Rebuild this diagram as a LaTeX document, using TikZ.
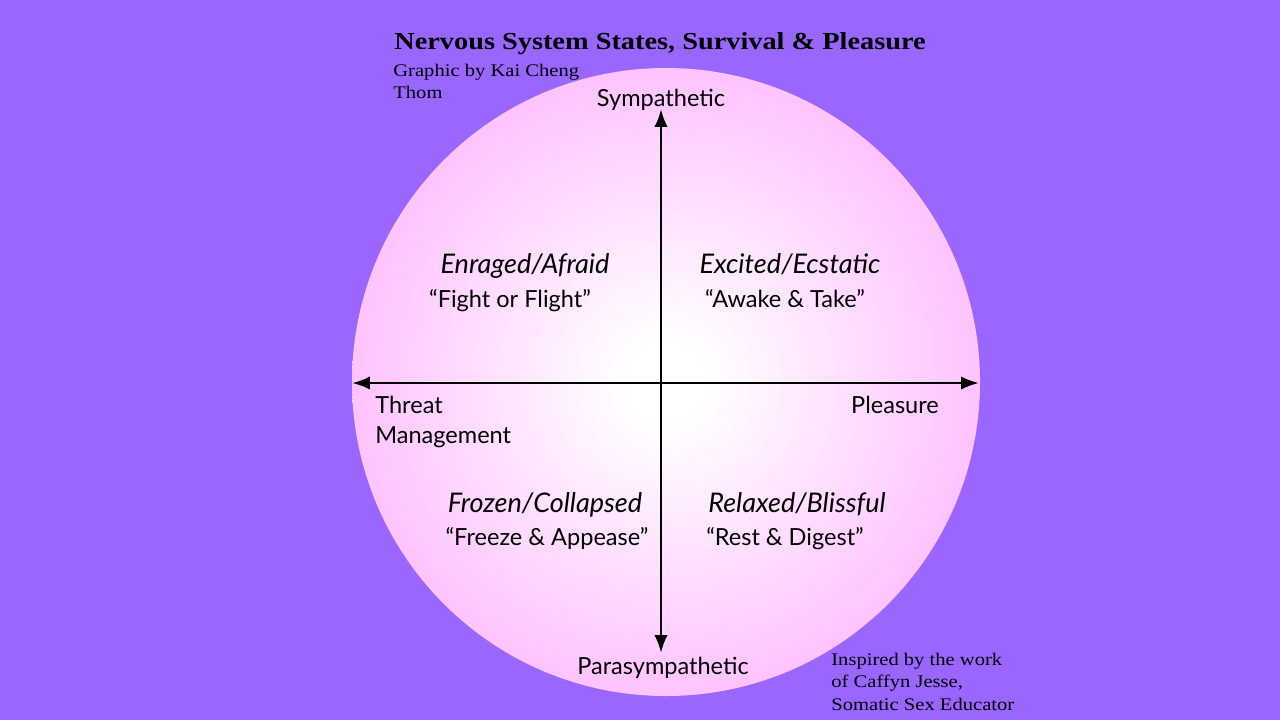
\documentclass[tikz,border=0pt]{standalone}
\usepackage{fontspec}
\setmainfont[FakeStretch=1.16]{Liberation Serif}
\newfontfamily\labelfont{Lato}
\usetikzlibrary{arrows.meta}
\definecolor{bgViolet}{RGB}{153, 102, 255}
\definecolor{petalPink}{RGB}{255, 178, 255}
\pgfdeclareradialshading{petal}{\pgfpoint{0bp}{0bp}}{%
  color(0bp)=(white); color(3bp)=(white);
  color(31bp)=(petalPink); color(100bp)=(petalPink)}

\begin{document}
\begin{tikzpicture}[
  x=0.02cm, y=-0.02cm,
  every node/.style={inner sep=0pt},
  axislabel/.style={font=\labelfont\fontsize{13.4}{15}\selectfont, anchor=base},
  quadrant/.style={font=\labelfont\itshape\fontsize{15.4}{17}\selectfont, anchor=base},
  credit/.style={font=\fontsize{10.1}{12}\selectfont, anchor=base west},
  >=Latex
]
  \useasboundingbox (0,0) rectangle (1280,720);
  \fill[bgViolet] (0,0) rectangle (1280,720);
  \shade[shading=petal] (666,382) circle (314);

  % Titles
  \node[credit, font=\bfseries\fontsize{13.9}{16}\selectfont] (title) at (394,49)
    {Nervous System States, Survival \& Pleasure};
  \node[credit] (by1) at (393,76) {Graphic by Kai Cheng};
  \node[credit] (by2) at (393,98) {Thom};
  \node[credit] (insp1) at (831,665) {Inspired by the work};
  \node[credit] (insp2) at (831,687) {of Caffyn Jesse,};
  \node[credit] (insp3) at (831,710) {Somatic Sex Educator};

  % Axes
  \coordinate (symtip) at (661,109);
  \coordinate (paratip) at (661,653);
  \coordinate (threattip) at (352,383);
  \coordinate (pleasuretip) at (979,383);
  \draw[<->, line width=1.6pt] (paratip) -- (symtip);
  \draw[<->, line width=1.6pt] (threattip) -- (pleasuretip);

  \node[axislabel] (sym) at (661,106) {Sympathetic};
  \node[axislabel] (para) at (663,674) {Parasympathetic};
  \node[axislabel, anchor=base west] (threat) at (375,413) {Threat};
  \node[axislabel, anchor=base west] (mgmt) at (375,443) {Management};
  \node[axislabel] (pleas) at (895,413) {Pleasure};

  % Quadrants
  \node[quadrant] (enraged) at (525,273) {Enraged/Afraid};
  \node[axislabel] (fight) at (510,307) {“Fight or Flight”};
  \node[quadrant] (excited) at (790,273) {Excited/Ecstatic};
  \node[axislabel] (awake) at (785,307) {“Awake \& Take”};
  \node[quadrant] (frozen) at (545,512) {Frozen/Collapsed};
  \node[axislabel] (freeze) at (547,545) {“Freeze \& Appease”};
  \node[quadrant] (relaxed) at (797,512) {Relaxed/Blissful};
  \node[axislabel] (rest) at (785,545) {“Rest \& Digest”};
\end{tikzpicture}
\end{document}
